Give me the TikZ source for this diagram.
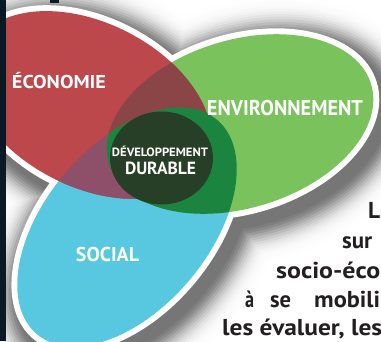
\documentclass[tikz,border=0pt]{standalone}
\usepackage{fontspec}
\setmainfont{PT Sans}
\setsansfont{PT Sans}
\definecolor{cRed}{RGB}{188,72,76}
\definecolor{cGreen}{RGB}{122,194,92}
\definecolor{cCyan}{RGB}{87,200,224}
\definecolor{cRG}{RGB}{139,69,71}
\definecolor{cRC}{RGB}{142,80,104}
\definecolor{cGC}{RGB}{27,133,64}
\definecolor{cCore}{RGB}{38,63,38}
\definecolor{cStrip}{RGB}{10,26,36}
\definecolor{cText}{RGB}{35,31,32}
% generic rotated ellipse: cx cy angle a b options
\newcommand\myell[6]{\path[shift={(#1,#2)},rotate=#3,#6] (0,0) ellipse [x radius={#4},y radius={#5}];}
\newcommand\Ered[2]{\myell{90}{105}{-27}{130+#1}{82+#1}{#2}}
\newcommand\Egreen[2]{\myell{240}{124}{17}{137+#1}{84+#1}{#2}}
\newcommand\Ecyan[2]{\myell{127}{227}{50}{140+#1}{82+#1}{#2}}
\newcommand\fs[1]{\fontsize{#1}{#1}\selectfont}
\begin{document}
\begin{tikzpicture}[x=1pt,y=-1pt,
  lab/.style={anchor=base,inner sep=0pt,text=white,font=\bfseries},
  body/.style={anchor=base west,inner sep=0pt,text=cText,font=\bfseries\fs{23}}]
\useasboundingbox (0,0) rectangle (381,341);
\clip (0,0) rectangle (381,341);
\fill[white] (0,0) rectangle (381,341);
% soft drop shadow
\foreach \k in {18,17,...,1}{
  \pgfmathsetmacro\e{6+2.6*\k}
  \pgfmathsetmacro\p{55*exp(-((\k/7)^2))}
  \begin{scope}[shift={(7,9)}]
    \Ered{\e}{fill=black!\p}
    \Egreen{\e}{fill=black!\p}
    \Ecyan{\e}{fill=black!\p}
  \end{scope}
}
% white rims
\Ered{6}{fill=white}
\Egreen{6}{fill=white}
\Ecyan{6}{fill=white}
% main sets
\Ecyan{0}{fill=cCyan}
\Egreen{0}{fill=cGreen}
\Ered{0}{fill=cRed}
% pairwise overlaps
\begin{scope}
  \Ered{0}{clip}
  \Egreen{0}{fill=cRG}
\end{scope}
\begin{scope}
  \Ered{0}{clip}
  \Ecyan{0}{fill=cRC}
\end{scope}
\begin{scope}
  \Egreen{0}{clip}
  \Ecyan{0}{fill=cGC}
\end{scope}
% core
\fill[cCore] (161.5,158) ellipse [x radius=51.5,y radius=46.5];
% labels
\node[lab] (eco) at (59,88) {\fs{18.6}\resizebox{94pt}{\height}{ÉCONOMIE}};
\node[lab] (env) at (285,115) {\fs{21.4}\resizebox{156pt}{\height}{ENVIRONNEMENT}};
\node[lab] (dev) at (160,156) {\fs{12}\resizebox{96pt}{\height}{DÉVELOPPEMENT}};
\node[lab] (dur) at (160.5,174) {\fs{17.6}\resizebox{71pt}{\height}{DURABLE}};
\node[lab] (soc) at (107.5,261) {\fs{20}\resizebox{63pt}{\height}{SOCIAL}};
% body text fragments
\node[body] (t1) at (368,218) {\resizebox{12pt}{\height}{L}};
\node[body] (t2) at (342,248) {\resizebox{30pt}{\height}{sur}};
\node[body] (t3) at (276,278) {\resizebox{104pt}{\height}{socio-éco}};
\node[body] (t4a) at (245,307) {\resizebox{9pt}{\height}{à}};
\node[body] (t4b) at (270,307) {\resizebox{21pt}{\height}{se}};
\node[body] (t4c) at (314,307) {\resizebox{66pt}{\height}{mobili}};
\node[body] (t5) at (222,335) {\resizebox{160pt}{\height}{les évaluer, les}};
% page elements
\fill[cStrip] (0,0) rectangle (6,341);
\fill[cStrip] (50,0) rectangle (59,3);
\end{tikzpicture}
\end{document}
